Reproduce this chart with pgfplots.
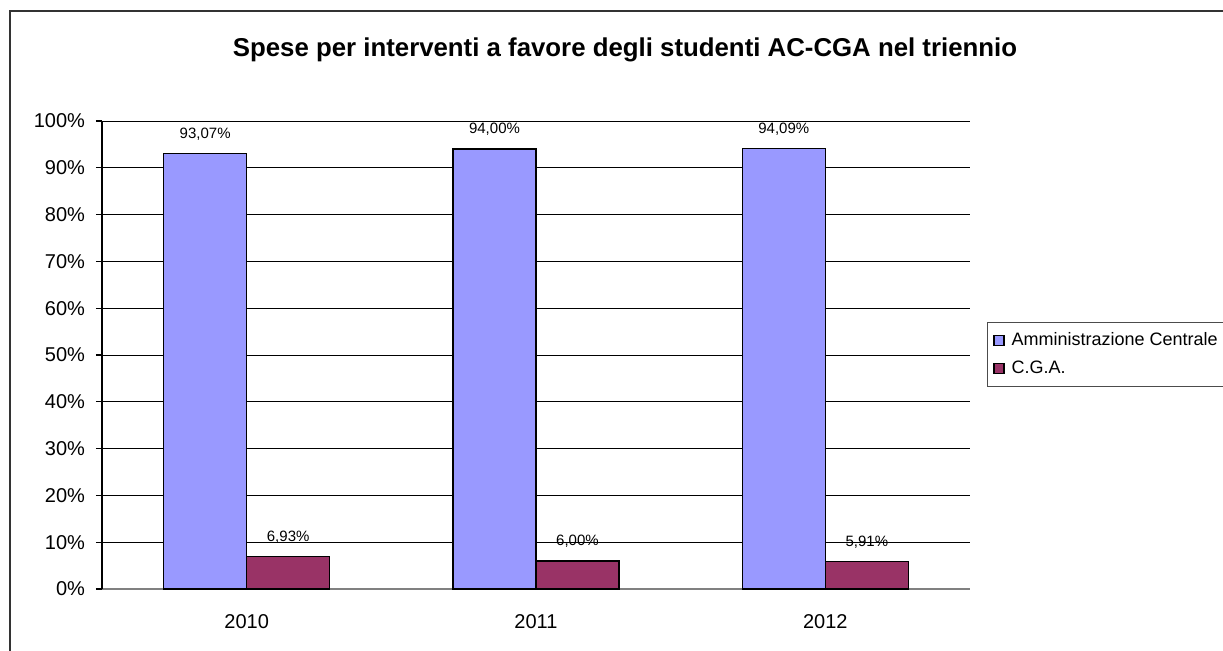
\documentclass[border=0pt]{standalone}
\usepackage{pgfplots}
\pgfplotsset{compat=1.18}
\usepackage{fontspec}
\setmainfont{Liberation Sans}
\definecolor{acblue}{HTML}{9999FF}
\definecolor{cgared}{HTML}{993366}

\begin{document}
\begin{tikzpicture}
\useasboundingbox (0,0) rectangle (611.5pt,325pt);
% chart frame (cut at right and bottom)
\draw[line width=1pt, black!80] (5pt,-5pt) -- (5pt,319.5pt) -- (620pt,319.5pt);
\node[font=\bfseries\fontsize{12.9}{15}\selectfont] at (312.5pt,300pt)
  {Spese per interventi a favore degli studenti AC-CGA nel triennio};
\begin{axis}[
  at={(51pt,30.5pt)}, anchor=south west,
  scale only axis, width=434pt, height=234pt,
  ybar=0pt, bar width=41.5pt,
  xmin=-0.5, xmax=2.5, ymin=0, ymax=100,
  xtick={0,1,2}, xticklabels={2010,2011,2012},
  minor xtick={-0.5,0.5,1.5,2.5},
  xtick style={draw=none},
  minor x tick style={gray, line width=0.6pt},
  ytick={0,10,...,90},
  extra y ticks={100},
  extra y tick style={grid style={gray, line width=0.6pt}},
  yticklabel={\pgfmathprintnumber{\tick}\%},
  ymajorgrids,
  major grid style={black, line width=0.5pt},
  axis x line*=bottom, axis y line*=left,
  x axis line style={gray, line width=0.8pt, -},
  y axis line style={black, line width=0.6pt, -},
  tick align=outside,
  major tick length=3pt, minor tick length=3pt,
  y tick style={black, line width=0.6pt},
  tick label style={font=\fontsize{10}{12}\selectfont},
  /pgf/number format/assume math mode=true,
  xticklabel style={yshift=-6pt},
  yticklabel style={xshift=-2pt},
  nodes near coords={\pgfmathprintnumber[fixed,fixed zerofill,precision=2,use comma]{\pgfplotspointmeta}\%},
  every node near coord/.append style={font=\fontsize{7.5}{9}\selectfont, yshift=3pt},
  legend style={at={(1.0196,0.5705)}, anchor=north west, draw=black!70,
    font=\fontsize{9}{11}\selectfont, row sep=2pt, inner xsep=3pt, inner ysep=3pt,
    /tikz/every odd column/.append style={column sep=1.5pt}},
  legend cell align=left,
  legend image code/.code={\draw[#1, draw=black, line width=0.6pt] (0pt,-2.5pt) rectangle (5pt,2.5pt);},
]
\addplot[fill=acblue, draw=black, line width=0.6pt] coordinates {(0,93.07) (1,94.00) (2,94.09)};
\addlegendentry{Amministrazione Centrale}
\addplot[fill=cgared, draw=black, line width=0.6pt] coordinates {(0,6.93) (1,6.00) (2,5.91)};
\addlegendentry{C.G.A.}
\end{axis}
\end{tikzpicture}
\end{document}
